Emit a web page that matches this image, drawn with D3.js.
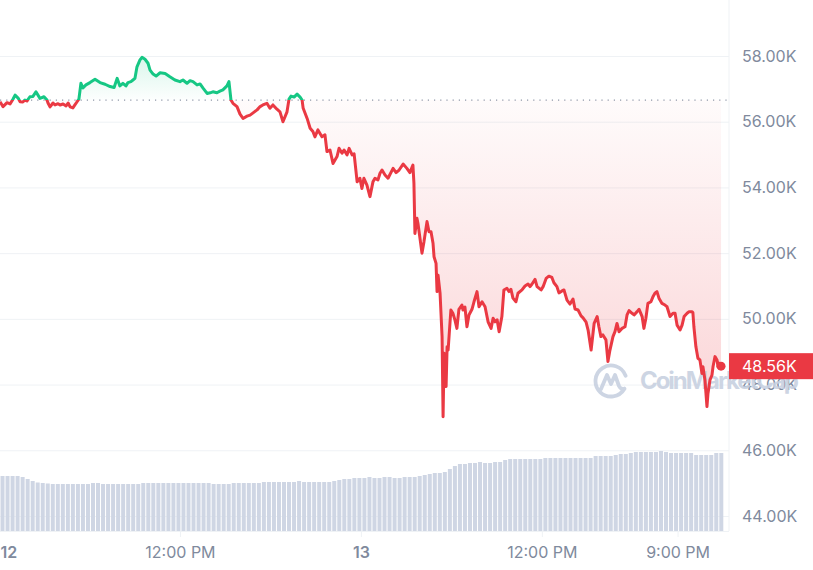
<!DOCTYPE html>
<html>
<head>
<meta charset="utf-8">
<script src="https://cdnjs.cloudflare.com/ajax/libs/d3/7.8.5/d3.min.js"></script>
<style>
  body { margin: 0; background: #fff; }
  text { font-family: Inter, "Noto Sans", sans-serif; }
</style>
</head>
<body>
<div id="chart"></div>
<script>
(function() {
  var width = 813, height = 570, plotRight = 729;

  // price series: minutes after 12 May 00:00, price in USD
  var priceMinutes = [
    4,16,32,44,56,64,76,84,95,103,111,123,135,147,163,179,191,195,203,215,223,235,243,255,267,275,283,294,302,310,
    318,326,334,346,362,382,402,422,442,458,470,481,493,505,513,525,533,541,549,561,569,581,593,601,613,625,641,
    661,680,700,720,732,748,760,772,788,800,812,828,840,851,867,879,891,907,915,923,931,947,959,971,987,999,1011,
    1027,1039,1050,1066,1078,1090,1106,1118,1130,1146,1154,1162,1174,1186,1198,1206,
    1210,1226,1238,1249,1257,1269,1285,1297,1305,1317,1329,1345,1353,1365,1373,1385,1393,1405,1413,1425,1436,1444,
    1452,1464,1476,1488,1496,1508,1516,1524,1536,1548,1568,1580,1592,1608,1623,1635,1647,
    1651,1655,1663,1667,1683,1691,1703,1711,1719,1727,1731,1739,1743,1747,1755,1763,1767,1771,1779,1783,1787,1798,
    1806,1814,1822,1830,1842,1846,1854,1862,1870,1882,1890,1902,1910,1922,1934,1946,1958,1966,1974,1982,1990,2001,
    2009,2021,2029,2037,2045,2057,2065,
    2081,2093,2105,2113,2121,2133,2141,2157,2165,2177,2188,2200,2208,2220,2228,2240,2248,2260,2272,2284,2292,2304,
    2316,2324,2336,2344,2356,2368,2380,2387,2395,2403,2415,2423,
    2431,2443,2451,2459,2467,2479,2491,2499,2507,2519,2527,2539,2547,2559,2566,2574,2582,2594,2602,2610,2618,2626,
    2638,2650,2658,2670,2682,2690,2698,2710,2718,2726,2738,2746,2757,2761,2765,2773,2781,2789,2797,2801,2809,2817,
    2821,2829,2837,2841,2849,2857,2861,2865,2873
  ];
  var priceValues = [
    56610,56460,56580,56540,56690,56810,56720,56610,56600,56660,56630,56760,56770,56910,56710,56760,56660,56570,56450,56570,
    56510,56550,56510,56540,56480,56570,56450,56420,56510,56600,56690,57170,57030,57120,57190,57290,57190,57140,57070,57040,
    57320,57090,57170,57090,57190,57220,57270,57320,57670,57880,57960,57900,57780,57570,57450,57390,57490,
    57470,57370,57270,57220,57270,57170,57250,57220,57120,57150,57020,56860,56880,56910,56880,56930,56970,57090,57220,56660,
    56560,56460,56230,56100,56170,56200,56270,56360,56460,56510,56560,56410,56510,56380,56300,56000,56300,56690,56780,56750,
    56840,56750,56660,
    56420,56100,55800,55700,55540,55750,55540,55600,55090,55140,54730,54940,55190,55040,55140,54990,55190,54990,55020,54170,
    54280,53970,54280,54070,53720,54170,54280,54230,54430,54530,54380,54280,54580,54450,54530,54710,54580,54450,54680,
    54130,52600,53060,52910,52000,52350,52960,52650,52650,52300,51890,51690,50830,51330,50780,49460,47020,48950,47940,49150,
    49050,50270,50170,49970,49710,50290,50420,50270,50360,49760,50120,50290,50520,50830,50370,50520,50370,49910,49710,50020,
    49910,49970,49610,50070,50880,50930,50830,50900,50630,50520,50780,
    50880,51000,51060,50980,51060,51200,50980,50880,50980,51230,51300,51260,51100,50980,50790,50850,50880,50570,50450,50600,
    50300,50270,50090,50030,49900,49660,49050,49860,50070,49760,49460,49510,49360,48700,
    49050,49460,49610,49860,49610,49710,49760,50120,50250,50170,50120,50220,50290,50070,49710,50020,50470,50520,50670,50780,
    50830,50630,50470,50420,50370,50070,50170,50170,49810,49660,49810,50070,50170,50220,50220,50190,49760,49150,48800,48750,
    48340,48540,48140,47330,47730,48140,48290,48540,48850,48750,48540,48650,48560
  ];
  var openPrice = 56660;

  // volume bars, one every 20 minutes starting 00:14
  var volumeStartMinute = 14, volumeStep = 20;
  var volumes = [
    55,55,55,55,54,52,50,48.5,48,47.5,
    47,47,47,47,47,47,47,47,48,48,47,47,47,47,47,47,47,47,
    48,48,48,48,48,48,48,48,48,48,48,48,48,48,
    47,47,47,47,48,48,48,48,48,48,
    49,49,49,49,49,49,49,50,49,49,49,49,49,49,
    50,51,52,52,53,53,53,54,53,53,54,54,53,53,54,54,54,
    55,56,57,58,58,59,62,65,67,67,68,68,69,68,68,69,69,
    71,72,72,72,72,72,72,72,73,73,73,73,73,73,73,73,73,73,
    75,75,75,75,76,77,77,78,79,79,79,79,79,80,79,78,78,78,78,78,76,76,76,76,78,78
  ];

  var priceTicks = [44000, 46000, 48000, 50000, 52000, 54000, 56000, 58000];
  var xTickMinutes = [0, 720, 1440, 2160, 2700];
  var xTickLabels = ["12", "12:00 PM", "13", "12:00 PM", "9:00 PM"];
  var boldTicks = ["12", "13"];

  var green = "#16c784", red = "#ea3943";

  var dayStart = new Date(2021, 4, 12);
  function toDate(m) { return new Date(dayStart.getTime() + m * 60000); }

  var prices = priceMinutes.map(function(m, i) {
    return { date: toDate(m), price: priceValues[i] };
  });
  var bars = volumes.map(function(v, i) {
    return { date: toDate(volumeStartMinute + volumeStep * i), vol: v };
  });

  var svg = d3.select("#chart")
    .append("svg")
    .attr("width", width)
    .attr("height", height);

  var x = d3.scaleTime()
    .domain([dayStart, new Date(2021, 4, 14)])
    .range([-1, 722.8]);
  var y = d3.scaleLinear().domain([44000, 58000]).range([516, 56]);
  var yVol = d3.scaleLinear().domain([0, 80]).range([531, 451]);

  var baseY = y(openPrice);

  // gridlines + right labels
  var yAxis = d3.axisRight(y)
    .tickValues(priceTicks)
    .tickSizeInner(-plotRight)
    .tickSizeOuter(0)
    .tickPadding(13)
    .tickFormat(function(d) { return d3.format(".2f")(d / 1000) + "K"; });

  var yg = svg.append("g")
    .attr("class", "axis y-axis")
    .attr("transform", "translate(" + plotRight + ",0)")
    .call(yAxis);
  yg.select(".domain").remove();
  yg.selectAll("line").attr("stroke", "#eff2f5");
  yg.selectAll("text").attr("fill", "#808a9d").attr("font-size", 16);

  svg.append("line")
    .attr("x1", plotRight).attr("x2", plotRight)
    .attr("y1", 0).attr("y2", 531)
    .attr("stroke", "#eff2f5");

  // volume
  svg.append("g").selectAll("rect")
    .data(bars)
    .enter().append("rect")
    .attr("x", function(d) { return x(d.date) - 2; })
    .attr("width", 4)
    .attr("y", function(d) { return yVol(d.vol); })
    .attr("height", function(d) { return yVol(0) - yVol(d.vol); })
    .attr("fill", "#cfd6e4");

  // x axis
  var xAxis = d3.axisBottom(x)
    .tickValues(xTickMinutes.map(toDate))
    .tickFormat(function(d, i) { return xTickLabels[i]; })
    .tickSizeOuter(0)
    .tickSizeInner(6)
    .tickPadding(9.5);
  var xg = svg.append("g")
    .attr("class", "axis x-axis")
    .attr("transform", "translate(0,531)")
    .call(xAxis);
  xg.select(".domain").attr("stroke", "#eff2f5").attr("d", "M0,0.5H" + plotRight);
  xg.selectAll("line").attr("stroke", "#eff2f5");
  xg.selectAll("text")
    .attr("fill", "#808a9d")
    .attr("font-size", 16)
    .attr("font-weight", function(d, i) { return boldTicks.indexOf(xTickLabels[i]) >= 0 ? 600 : 400; });
  xg.select(".tick text").attr("text-anchor", "start").attr("x", 1);

  // gradients and clips
  var defs = svg.append("defs");
  var gUp = defs.append("linearGradient").attr("id", "grad-up")
    .attr("gradientUnits", "userSpaceOnUse")
    .attr("x1", 0).attr("x2", 0)
    .attr("y1", y(d3.max(priceValues))).attr("y2", baseY);
  gUp.append("stop").attr("offset", 0).attr("stop-color", green).attr("stop-opacity", 0.16);
  gUp.append("stop").attr("offset", 1).attr("stop-color", green).attr("stop-opacity", 0.01);

  var gDown = defs.append("linearGradient").attr("id", "grad-down")
    .attr("gradientUnits", "userSpaceOnUse")
    .attr("x1", 0).attr("x2", 0)
    .attr("y1", baseY).attr("y2", y(d3.min(priceValues)));
  gDown.append("stop").attr("offset", 0).attr("stop-color", red).attr("stop-opacity", 0.02);
  gDown.append("stop").attr("offset", 1).attr("stop-color", red).attr("stop-opacity", 0.22);

  defs.append("clipPath").attr("id", "clip-up")
    .append("rect").attr("x", -5).attr("y", 0).attr("width", plotRight + 5).attr("height", baseY);
  defs.append("clipPath").attr("id", "clip-down")
    .append("rect").attr("x", -5).attr("y", baseY).attr("width", plotRight + 5).attr("height", height);

  var area = d3.area()
    .x(function(d) { return x(d.date); })
    .y0(baseY)
    .y1(function(d) { return y(d.price); });

  var line = d3.line()
    .x(function(d) { return x(d.date); })
    .y(function(d) { return y(d.price); });

  svg.append("path").datum(prices)
    .attr("d", area).attr("fill", "url(#grad-up)").attr("clip-path", "url(#clip-up)");
  svg.append("path").datum(prices)
    .attr("d", area).attr("fill", "url(#grad-down)").attr("clip-path", "url(#clip-down)");

  // opening price dotted line
  svg.append("line")
    .attr("x1", 0).attr("x2", plotRight)
    .attr("y1", baseY).attr("y2", baseY)
    .attr("stroke", "#8f98a8")
    .attr("stroke-width", 1.2)
    .attr("stroke-dasharray", "1.2 5");

  // watermark
  var wm = svg.append("g").attr("opacity", 0.9);
  var cx = 611, cy = 381, r = 15.5;
  function pt(a) { return [cx + r * Math.cos(a * Math.PI / 180), cy + r * Math.sin(a * Math.PI / 180)]; }
  var s = pt(-20), e = pt(30);
  wm.append("path")
    .attr("d", "M" + s[0] + "," + s[1] + " A" + r + "," + r + " 0 1 0 " + e[0] + "," + e[1] +
      " M" + (cx - 10) + "," + (cy + 8) + " L" + (cx - 4) + "," + (cy - 6) + " L" + cx + "," + (cy + 3) +
      " L" + (cx + 4) + "," + (cy - 6) + " L" + (cx + 8) + "," + (cy + 5) +
      " Q" + (cx + 10) + "," + (cy + 9) + " " + e[0] + "," + e[1])
    .attr("fill", "none")
    .attr("stroke", "#c8d1e1")
    .attr("stroke-width", 3.8)
    .attr("stroke-linecap", "round")
    .attr("stroke-linejoin", "round");
  wm.append("text")
    .attr("x", 640).attr("y", 389)
    .attr("font-size", 24)
    .attr("font-weight", 700)
    .attr("textLength", 159)
    .attr("fill", "#c8d1e1")
    .text("CoinMarketCap");

  // price line
  svg.append("path").datum(prices)
    .attr("d", line).attr("fill", "none").attr("stroke", green)
    .attr("stroke-width", 3).attr("stroke-linejoin", "round")
    .attr("clip-path", "url(#clip-up)");
  svg.append("path").datum(prices)
    .attr("d", line).attr("fill", "none").attr("stroke", red)
    .attr("stroke-width", 3).attr("stroke-linejoin", "round")
    .attr("clip-path", "url(#clip-down)");

  var last = prices[prices.length - 1];
  svg.append("circle")
    .attr("cx", x(last.date)).attr("cy", y(last.price))
    .attr("r", 4.5).attr("fill", last.price >= openPrice ? green : red);

  // current price tag
  svg.append("rect")
    .attr("x", plotRight).attr("y", y(last.price) - 13)
    .attr("width", width - plotRight).attr("height", 26)
    .attr("fill", red);
  svg.append("text")
    .attr("x", plotRight + 13).attr("y", y(last.price))
    .attr("dy", "0.35em")
    .attr("font-size", 16)
    .attr("fill", "#fff")
    .text(d3.format(".2f")(last.price / 1000) + "K");
})();
</script>
</body>
</html>
